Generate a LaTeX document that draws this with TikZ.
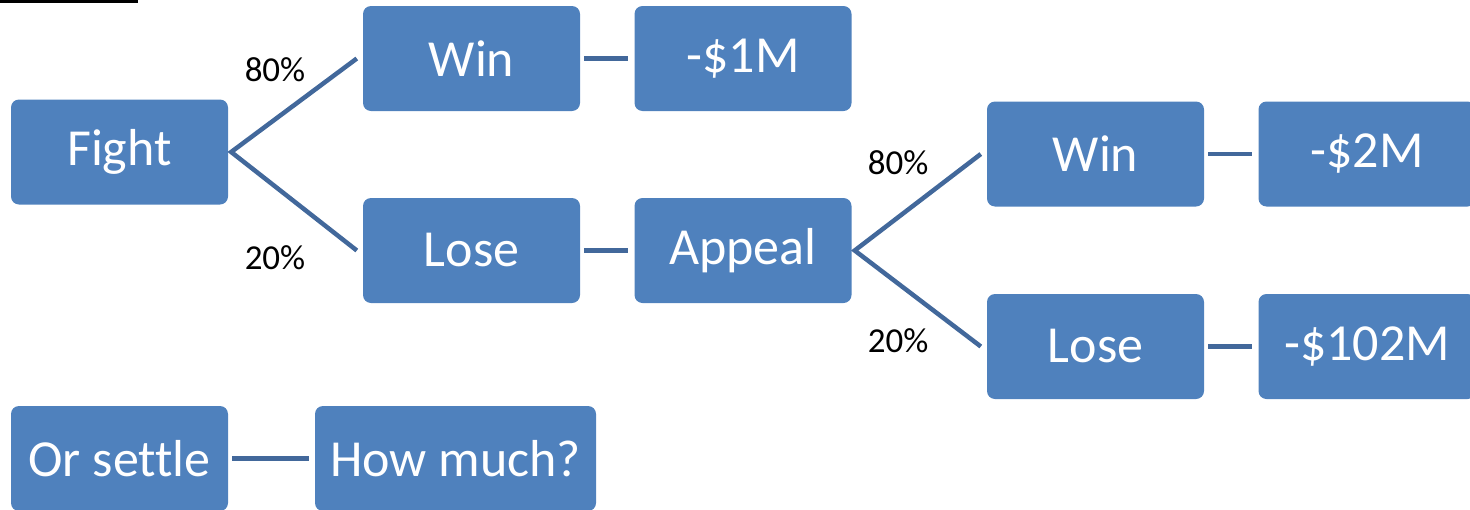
\documentclass[tikz,border=0pt]{standalone}
\usepackage{fontspec}
\setmainfont[Ligatures=NoCommon]{Carlito}
\definecolor{boxblue}{RGB}{79,129,189}
\definecolor{lineblue}{RGB}{66,104,155}
\begin{document}
\begin{tikzpicture}[x=1pt,y=-1pt,
  box/.style={fill=boxblue, rounded corners=8pt, minimum height=105pt, text=white, inner sep=0pt,
    font=\fontsize{52}{60}\selectfont},
  wbox/.style={box, minimum width=217pt},
  conn/.style={draw=lineblue, line width=4.5pt},
  pct/.style={font=\fontsize{35}{40}\selectfont, text=black, inner sep=0pt}]
\useasboundingbox (0,0) rectangle (1470,509);
\clip (0,0) rectangle (1470,509);
\fill[black] (0,0) rectangle (138,2.5);
\node[wbox] (fight) at (119.5,152) {Fight};
\node[wbox] (win1) at (471.5,58.5) {Win};
\node[wbox] (m1) at (743,58.5) {-\$1M};
\node[wbox] (lose1) at (471.5,250.5) {Lose};
\node[wbox] (appeal) at (743,250.5) {Appeal};
\node[wbox] (win2) at (1095.5,154) {Win};
\node[wbox] (m2) at (1367,154) {-\$2M};
\node[wbox] (lose2) at (1095.5,346.5) {Lose};
\node[wbox] (m102) at (1367,346.5) {-\$102M};
\node[wbox] (settle) at (119.5,458.5) {Or settle};
\node[box, minimum width=281pt] (howmuch) at (455.5,458.5) {How much?};
\node[pct] (p1) at (275,70) {80\%};
\node[pct] (p2) at (275,258) {20\%};
\node[pct] (p3) at (898,163) {80\%};
\node[pct] (p4) at (898,341) {20\%};
\draw[conn] ([xshift=-6pt]win1.west) -- ([xshift=3pt]fight.east) -- ([xshift=-6pt]lose1.west);
\draw[conn] ([xshift=4pt]win1.east) -- ([xshift=-6pt]m1.west);
\draw[conn] ([xshift=4pt]lose1.east) -- ([xshift=-6pt]appeal.west);
\draw[conn] ([xshift=-6pt]win2.west) -- ([xshift=3pt]appeal.east) -- ([xshift=-6pt]lose2.west);
\draw[conn] ([xshift=4pt]win2.east) -- ([xshift=-6pt]m2.west);
\draw[conn] ([xshift=4pt]lose2.east) -- ([xshift=-6pt]m102.west);
\draw[conn] ([xshift=4pt]settle.east) -- ([xshift=-6pt]howmuch.west);
\end{tikzpicture}
\end{document}
